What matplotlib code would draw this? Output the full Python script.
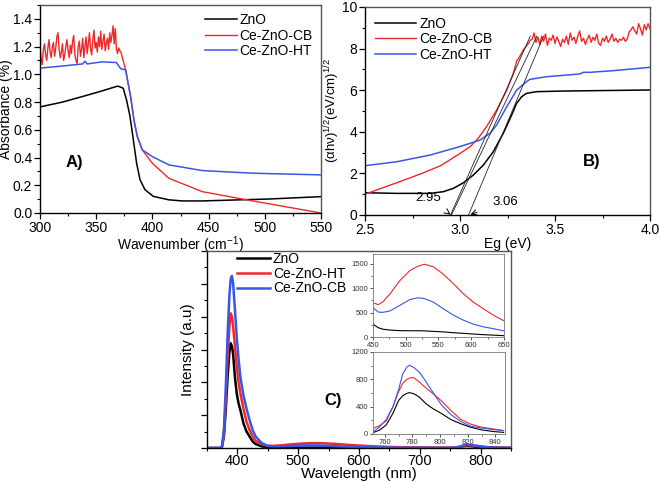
import numpy as np
import matplotlib
matplotlib.use("Agg")
import matplotlib.pyplot as plt
from matplotlib.ticker import MultipleLocator, NullFormatter

plt.rcParams['font.family'] = ['Liberation Sans', 'DejaVu Sans']
plt.rcParams['mathtext.fontset'] = 'custom'
plt.rcParams['mathtext.rm'] = 'Liberation Sans'
plt.rcParams['mathtext.it'] = 'Liberation Sans:italic'

RED = '#f02828'
BLUE = '#3a56ea'
BLACK = '#000000'

# ---------------- Panel A data ----------------
a_black_x = [300, 320, 340, 355, 365, 369, 371, 374, 377, 380, 383, 386, 389, 393.4, 400.8, 414.7, 426.6, 444, 474, 504, 550]
a_black_y = [0.765, 0.80, 0.845, 0.88, 0.905, 0.915, 0.91, 0.90, 0.815, 0.70, 0.53, 0.357, 0.24, 0.168, 0.12, 0.095, 0.087, 0.087, 0.094, 0.101, 0.118]

a_red_noise_x = list(range(300, 373))
a_red_noise_y = [1.20, 1.12, 1.07, 1.18, 1.22, 1.14, 1.10, 1.19, 1.25, 1.16,
                 1.12, 1.20, 1.23, 1.13, 1.19, 1.27, 1.30, 1.18, 1.12, 1.16,
                 1.22, 1.10, 1.14, 1.20, 1.25, 1.17, 1.12, 1.21, 1.15, 1.24,
                 1.28, 1.14, 1.10, 1.08, 1.20, 1.24, 1.13, 1.18, 1.26, 1.12,
                 1.20, 1.27, 1.15, 1.22, 1.30, 1.18, 1.14, 1.25, 1.32, 1.19,
                 1.23, 1.16, 1.27, 1.20, 1.31, 1.18, 1.24, 1.29, 1.17, 1.22,
                 1.26, 1.18, 1.30, 1.23, 1.28, 1.35, 1.22, 1.33, 1.18, 1.15,
                 1.19, 1.17, 1.16]
a_red_tail_x = [374, 376.2, 380.6, 383.6, 386.6, 391, 399.9, 414.7, 444.4, 484.4, 550]
a_red_tail_y = [1.10, 1.031, 0.84, 0.67, 0.551, 0.455, 0.359, 0.25, 0.154, 0.094, 0.0]

a_blue_x = [300, 320, 338, 340, 342, 355, 368, 370, 372, 376.2, 380.6, 383.6, 386.6, 391, 399.9, 414.7, 444.4, 488.9, 550]
a_blue_y = [1.045, 1.06, 1.075, 1.095, 1.075, 1.09, 1.085, 1.06, 1.04, 1.031, 0.84, 0.67, 0.551, 0.455, 0.407, 0.347, 0.306, 0.287, 0.275]

# ---------------- Panel B data ----------------
b_black_x = [2.5, 2.667, 2.842, 2.912, 2.965, 3.018, 3.07, 3.123, 3.175, 3.228, 3.272, 3.298, 3.325, 3.35, 3.404, 3.544, 4.0]
b_black_y = [1.07, 1.04, 1.04, 1.12, 1.28, 1.55, 1.92, 2.4, 3.04, 3.93, 4.81, 5.37, 5.69, 5.85, 5.93, 5.96, 6.01]

b_red_x = [2.5, 2.6, 2.7, 2.8, 2.9, 3.0, 3.053, 3.096, 3.14, 3.193, 3.246, 3.28, 3.30, 3.307, 3.333, 3.36, 3.37]
b_red_y = [1.0, 1.33, 1.66, 2.0, 2.38, 2.96, 3.28, 3.69, 4.25, 5.05, 6.0, 6.8, 7.45, 7.5, 7.93, 8.25, 8.4]
b_red_noise_x = [round(3.38 + 0.01 * i, 2) for i in range(63)]
b_red_noise_y = [8.45, 8.75, 8.30, 8.55, 8.20, 8.60, 8.35, 8.70, 8.15, 8.50,
                 8.40, 8.65, 8.25, 8.55, 8.35, 8.10, 8.45, 8.30, 8.60, 8.20,
                 8.75, 8.40, 8.55, 8.25, 8.60, 8.85, 8.35, 8.50, 8.20, 8.45,
                 8.65, 8.30, 8.55, 8.40, 8.70, 8.25, 8.15, 8.50, 8.35, 8.60,
                 8.30, 8.45, 8.70, 8.35, 8.50, 8.30, 8.45, 8.40, 8.55, 8.35,
                 8.45, 8.80, 8.90, 9.05, 8.85, 8.70, 9.20, 8.95, 8.65, 9.15,
                 8.90, 9.20, 8.95]

b_blue_x = [2.5, 2.667, 2.842, 3.0, 3.105, 3.158, 3.193, 3.246, 3.298, 3.35, 3.368, 3.456, 3.63, 3.65, 3.684, 3.807, 4.0]
b_blue_y = [2.37, 2.56, 2.88, 3.29, 3.6, 3.93, 4.33, 5.21, 6.0, 6.41, 6.52, 6.65, 6.78, 6.86, 6.86, 6.94, 7.1]

tangent_x0 = [2.95, 2.955, 3.045]
tangent_x1 = [3.37, 3.405, 3.44]
tangent_y1 = 8.6

# ---------------- Panel C data ----------------
pk_x = [350, 372, 375, 378, 381, 384, 387, 389, 391, 393, 396, 399, 402, 405, 410, 415, 420, 425, 430, 440]
pk_black = [0, 0, 500, 4000, 12000, 22000, 29500, 31900, 31000, 28500, 21500, 16500, 13500, 11500, 7500, 5000, 3500, 2000, 1200, 500]
pk_red = [0, 0, 600, 5000, 15000, 28000, 37500, 41000, 40000, 37000, 31000, 25000, 20000, 16500, 12000, 8000, 5500, 3500, 2200, 1100]
pk_blue = [0, 0, 800, 6000, 19000, 35000, 47000, 51500, 52400, 50000, 42000, 33500, 27000, 21500, 16000, 12000, 8500, 5500, 3500, 1500]

vis_x = [450, 458, 465, 476, 491, 506, 517, 522, 529, 542, 557, 573, 588, 603, 618, 634, 650]
vis_red = [703, 662, 720, 885, 1155, 1358, 1440, 1465, 1490, 1440, 1290, 1088, 885, 716, 581, 446, 330]
vis_blue = [600, 510, 505, 534, 649, 764, 800, 800, 784, 716, 581, 446, 345, 264, 210, 170, 125]
vis_black = [264, 190, 160, 142, 130, 128, 128, 128, 125, 115, 105, 88, 75, 61, 48, 38, 27]

gap_x = [665, 690, 720, 740]
gap_red = [260, 170, 110, 90]
gap_blue = [100, 70, 50, 42]
gap_black = [24, 22, 22, 23]

nir_x = [752, 756, 761, 766, 770, 773, 776, 778, 781, 785, 790, 795, 801, 808, 815, 822, 830, 839, 846]
nir_blue = [39, 100, 210, 401, 650, 880, 980, 1006, 975, 905, 760, 605, 426, 281, 184, 115, 87, 63, 50]
nir_red = [87, 120, 190, 401, 620, 740, 800, 820, 825, 760, 670, 590, 485, 340, 215, 145, 100, 73, 50]
nir_black = [24, 55, 130, 305, 490, 560, 595, 605, 590, 540, 440, 370, 300, 210, 150, 100, 60, 35, 24]

W, H = 661, 483
fig = plt.figure(figsize=(W / 100, H / 100), dpi=100)


def rect(l, r, t, b):
    return [l / W, 1 - b / H, (r - l) / W, (b - t) / H]


def style_axes(ax, fs=10):
    ax.tick_params(which='both', direction='out', labelsize=fs, pad=1.5)
    ax.tick_params(which='major', length=4, width=0.9)
    ax.tick_params(which='minor', length=2.5, width=0.8)
    for s in ['left', 'bottom']:
        ax.spines[s].set_linewidth(1.0)
        ax.spines[s].set_color('black')
    for s in ['top', 'right']:
        ax.spines[s].set_linewidth(1.0)
        ax.spines[s].set_color('#555555')


# ---------- A ----------
axA = fig.add_axes(rect(40, 321, 5, 213))
axA.plot(a_black_x, a_black_y, color=BLACK, lw=1.1, label='ZnO')
axA.plot(a_red_noise_x + a_red_tail_x, a_red_noise_y + a_red_tail_y, color=RED, lw=1.0, label='Ce-ZnO-CB')
axA.plot(a_blue_x, a_blue_y, color=BLUE, lw=1.1, label='Ce-ZnO-HT')
axA.set_xlim(300, 550)
axA.set_ylim(0, 1.5)
axA.xaxis.set_major_locator(MultipleLocator(50))
axA.xaxis.set_minor_locator(MultipleLocator(25))
axA.yaxis.set_minor_locator(MultipleLocator(0.1))
axA.set_yticks([0, 0.2, 0.4, 0.6, 0.8, 1.0, 1.2, 1.4])
axA.yaxis.set_major_formatter(matplotlib.ticker.FormatStrFormatter('%.1f'))
style_axes(axA, 10)
axA.set_xlabel('Wavenumber (cm$^{-1}$)', fontsize=10, labelpad=0)
axA.set_ylabel('Absorbance (%)', fontsize=10, labelpad=0)
axA.legend(loc='upper right', bbox_to_anchor=(1.0, 1.0), frameon=False, fontsize=10,
           handlelength=2.3, handletextpad=0.2, labelspacing=0.1, borderaxespad=0.2)
axA.text(0.122, 0.245, 'A)', transform=axA.transAxes, fontsize=12, fontweight='bold', ha='center', va='center')

# ---------- B ----------
axB = fig.add_axes(rect(365, 650, 7, 215))
axB.plot(b_black_x, b_black_y, color=BLACK, lw=1.1, label='ZnO')
axB.plot(b_red_x + b_red_noise_x, b_red_y + b_red_noise_y, color=RED, lw=1.0, label='Ce-ZnO-CB')
axB.plot(b_blue_x, b_blue_y, color=BLUE, lw=1.1, label='Ce-ZnO-HT')
for x0, x1 in zip(tangent_x0, tangent_x1):
    axB.plot([x0, x1], [0, tangent_y1], color='#222222', lw=0.6)
axB.set_xlim(2.5, 4.0)
axB.set_ylim(0, 10)
axB.xaxis.set_major_locator(MultipleLocator(0.5))
axB.xaxis.set_minor_locator(MultipleLocator(0.25))
axB.yaxis.set_major_locator(MultipleLocator(2))
axB.yaxis.set_minor_locator(MultipleLocator(1))
axB.xaxis.set_major_formatter(matplotlib.ticker.FormatStrFormatter('%.1f'))
style_axes(axB, 10)
axB.set_xlabel('Eg (eV)', fontsize=10, labelpad=0)
axB.set_ylabel('(αhν)$^{1/2}$(eV/cm)$^{1/2}$', fontsize=9.5, labelpad=0)
axB.legend(loc='upper left', bbox_to_anchor=(0.0, 1.0), frameon=False, fontsize=10,
           handlelength=3.0, handletextpad=0.2, labelspacing=0.1, borderaxespad=0.3)
axB.annotate('2.95', xy=(2.95, 0.02), xytext=(2.83, 0.82), fontsize=9.5, ha='center', va='center',
             arrowprops=dict(arrowstyle='->', lw=0.7, color='black', shrinkA=8, shrinkB=0))
axB.annotate('3.06', xy=(3.055, 0.02), xytext=(3.24, 0.63), fontsize=9.5, ha='center', va='center',
             arrowprops=dict(arrowstyle='->', lw=0.7, color='black', shrinkA=10, shrinkB=0))
axB.text(0.795, 0.255, 'B)', transform=axB.transAxes, fontsize=12, fontweight='bold', ha='center', va='center')

# ---------- C ----------
axC = fig.add_axes(rect(207, 511, 251, 448))
cx = pk_x + vis_x + gap_x + nir_x + [850]
c_black = pk_black + vis_black + gap_black + nir_black + [22]
c_red = pk_red + vis_red + gap_red + nir_red + [45]
c_blue = pk_blue + vis_blue + gap_blue + nir_blue + [45]
axC.plot(cx, c_black, color=BLACK, lw=1.8, label='ZnO')
axC.plot(cx, c_red, color=RED, lw=1.8, label='Ce-ZnO-HT')
axC.plot(cx, c_blue, color=BLUE, lw=1.8, label='Ce-ZnO-CB')
axC.set_xlim(350, 850)
axC.set_ylim(0, 60000)
axC.xaxis.set_major_locator(MultipleLocator(100))
axC.xaxis.set_minor_locator(MultipleLocator(50))
axC.yaxis.set_major_locator(MultipleLocator(10000))
axC.yaxis.set_minor_locator(MultipleLocator(5000))
axC.yaxis.set_major_formatter(NullFormatter())
style_axes(axC, 10.5)
axC.tick_params(axis='x', pad=0.5)
axC.set_xlabel('Wavelength (nm)', fontsize=11, labelpad=-1)
axC.set_ylabel('Intensity (a.u)', fontsize=11, labelpad=3)
axC.legend(loc='upper left', bbox_to_anchor=(0.075, 1.03), frameon=False, fontsize=10,
           handlelength=2.4, handletextpad=0.2, labelspacing=0.05, borderaxespad=0.1)
axC.text(0.415, 0.24, 'C)', transform=axC.transAxes, fontsize=12, fontweight='bold', ha='center', va='center')


def style_inset(ax):
    ax.tick_params(which='both', direction='out', labelsize=5.5, pad=1, colors='#333333')
    ax.tick_params(which='major', length=2.5, width=0.6)
    ax.tick_params(which='minor', length=1.5, width=0.5)
    for s in ax.spines.values():
        s.set_linewidth(0.6)
        s.set_color('#777777')


ax1 = fig.add_axes(rect(373, 504, 254, 337))
ax1.plot(vis_x, vis_black, color=BLACK, lw=0.8)
ax1.plot(vis_x, vis_red, color=RED, lw=0.8)
ax1.plot(vis_x, vis_blue, color=BLUE, lw=0.8)
ax1.set_xlim(450, 650)
ax1.set_ylim(0, 1700)
ax1.xaxis.set_major_locator(MultipleLocator(50))
ax1.xaxis.set_minor_locator(MultipleLocator(25))
ax1.yaxis.set_major_locator(MultipleLocator(500))
ax1.yaxis.set_minor_locator(MultipleLocator(250))
style_inset(ax1)

ax2 = fig.add_axes(rect(373, 505, 352, 434))
ax2.plot(nir_x, nir_black, color=BLACK, lw=0.8)
ax2.plot(nir_x, nir_red, color=RED, lw=0.8)
ax2.plot(nir_x, nir_blue, color=BLUE, lw=0.8)
ax2.set_xlim(751.5, 847)
ax2.set_ylim(0, 1200)
ax2.xaxis.set_major_locator(MultipleLocator(20))
ax2.xaxis.set_minor_locator(MultipleLocator(10))
ax2.yaxis.set_major_locator(MultipleLocator(400))
ax2.yaxis.set_minor_locator(MultipleLocator(200))
style_inset(ax2)

fig.savefig('out.png', dpi=100)
